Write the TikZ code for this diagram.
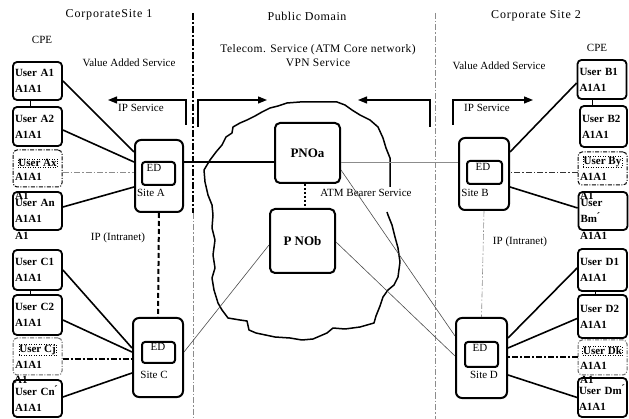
\documentclass[tikz,border=0pt]{standalone}
\usepackage{fontspec}
\setmainfont{Liberation Serif}
\usetikzlibrary{arrows.meta,calc}
\newcommand\usrfont{\fontsize{11}{16}\selectfont\bfseries}
\newcommand\lblfont{\fontsize{11}{13}\selectfont}
\newcommand\ttlfont{\fontsize{12}{14}\selectfont\addfontfeature{LetterSpace=7}}
\begin{document}
\begin{tikzpicture}[x=1pt,y=-1pt,
  usr/.style={draw, line width=1.8pt, rounded corners=4pt, minimum width=49pt,
    text width=45pt, inner sep=2pt, align=left, font=\usrfont},
  usrd/.style={usr, line width=1pt, dash pattern=on 4pt off 1.5pt on 1pt off 1.5pt},
  inbox/.style={draw, dotted, line width=0.5pt, inner sep=0.5pt, font=\usrfont},
  ovf/.style={font=\usrfont, inner sep=0pt, anchor=west},
  site/.style={draw, line width=2pt, rounded corners=6pt},
  edbox/.style={draw, line width=2pt, rounded corners=3pt, inner sep=0pt},
  pno/.style={draw, line width=2pt, rounded corners=5pt, minimum width=65pt,
    font=\fontsize{13}{15}\selectfont\bfseries},
  lbl/.style={font=\lblfont, inner sep=0pt},
  ttl/.style={font=\ttlfont, inner sep=0pt},
  conn/.style={line width=1.6pt},
  thinconn/.style={line width=0.6pt, black!70},
  ddthick/.style={line width=2pt, dash pattern=on 6pt off 2pt on 2pt off 2pt},
  ddthin/.style={line width=0.6pt, dash pattern=on 6pt off 2pt on 1.5pt off 2pt},
  svc/.style={line width=1.2pt, -{Triangle[length=9pt,width=7pt]}}
]
\useasboundingbox (0,0) rectangle (629,419);

% dividers
\draw[line width=2pt, dash pattern=on 7pt off 2pt on 2pt off 2pt] (193,13) -- (193,213);
\draw[ddthin, black!45] (193,213) -- (193,419);
\draw[ddthin, black!45] (435,13) -- (435,419);

% titles
\node[ttl] (t1) at (109,15) {CorporateSite 1};
\node[ttl, font=\fontsize{12}{14}\selectfont\addfontfeature{LetterSpace=5}] (t2) at (307,16) {Public Domain};
\node[ttl] (t3) at (536,16) {Corporate Site 2};
\node[lbl] (cpe1) at (42,40) {CPE};
\node[lbl] (cpe2) at (597,48) {CPE};
\node[lbl] (vas1) at (129,63) {Value Added Service};
\node[lbl] (vas2) at (499,66) {Value Added Service};
\node[lbl, align=center, font=\fontsize{11.5}{14}\selectfont\addfontfeature{LetterSpace=4}] (tel) at (318,56) {Telecom. Service (ATM Core network)\\VPN Service};
\node[lbl] (ips1) at (141,108) {IP Service};
\node[lbl] (ips2) at (487,108) {IP Service};
\node[lbl] (ipi1) at (118,238) {IP (Intranet)};
\node[lbl] (ipi2) at (520,242) {IP (Intranet)};

% service arrows
\coordinate (a1s) at (186,125); \coordinate (a1c) at (186,100); \coordinate (a1e) at (108,100);
\coordinate (a2s) at (198,127); \coordinate (a2c) at (198,100); \coordinate (a2e) at (267,100);
\coordinate (a3s) at (430,127); \coordinate (a3c) at (430,100); \coordinate (a3e) at (358,100);
\coordinate (a4s) at (453,125); \coordinate (a4c) at (453,100); \coordinate (a4e) at (533,100);
\draw[svc] (a1s) -- (a1c) -- (a1e);
\draw[svc] (a2s) -- (a2c) -- (a2e);
\draw[svc] (a3s) -- (a3c) -- (a3e);
\draw[svc] (a4s) -- (a4c) -- (a4e);

% cloud
\draw[line width=1.5pt, line join=round]
 (390,187) -- (390,158) -- (386,148) -- (383,138) -- (378,127) -- (370,120) -- (360,115)
 -- (352,110) -- (345,105) -- (337,102) -- (320,102) -- (300,102) -- (287,103) -- (278,106)
 -- (270,108) -- (262,112) -- (255,116) -- (247,120) -- (240,123) -- (233,127) -- (232,133)
 -- (226,137) -- (222,145) -- (216,152) -- (210,160) -- (204,170) -- (205,182) -- (208,195)
 -- (212,205) -- (213,215) -- (212,228) -- (215,240) -- (213,255) -- (215,268) -- (212,278)
 -- (214,290) -- (218,303) -- (222,310) -- (228,318) -- (240,320) -- (247,321) -- (249,330)
 -- (256,333) -- (275,337) -- (290,338) -- (302,340) -- (313,339) -- (320,336) -- (327,333)
 -- (333,328) -- (345,329) -- (360,327) -- (374,323) -- (376,316) -- (380,306) -- (383,297)
 -- (388,290) -- (394,285) -- (398,277) -- (400,262) -- (398,248) -- (395,237) -- (392,225)
 -- (388,215) -- (387,212);
\node[lbl] (atm) at (366,193) {ATM Bearer Service};

% PNO nodes
\node[pno, minimum height=60pt] (PNOa) at (307.5,153) {PNOa};
\node[pno, minimum height=64pt] (PNOb) at (302.5,241) {P NOb};

% sites
\node[site, minimum width=48pt, minimum height=72pt] (SA) at (159,176) {};
\node[edbox, minimum width=33pt, minimum height=23pt] (EA) at (158.5,173.5) {};
\node[lbl] (EAt) at (154,168) {ED};
\node[lbl] (SAt) at (151,193) {Site A};

\node[site, minimum width=50pt, minimum height=79pt] (SC) at (158,357.5) {};
\node[edbox, minimum width=33pt, minimum height=21pt] (EC) at (158.5,352.5) {};
\node[lbl] (ECt) at (158,347) {ED};
\node[lbl] (SCt) at (154,375) {Site C};

\node[site, minimum width=50pt, minimum height=72pt] (SB) at (484,174) {};
\node[edbox, minimum width=35pt, minimum height=23pt] (EB) at (484.5,172.5) {};
\node[lbl] (EBt) at (483,167) {ED};
\node[lbl] (SBt) at (475,193) {Site B};

\node[site, minimum width=51pt, minimum height=80pt] (SD) at (481.5,358) {};
\node[edbox, minimum width=33pt, minimum height=25pt] (ED) at (481.5,354.5) {};
\node[lbl] (EDt) at (480,348) {ED};
\node[lbl] (SDt) at (484,375) {Site D};

% users left
\node[usr, minimum height=38pt] (A1) at (37.5,81) {User A1\\A1A1};
\node[usr, minimum height=39pt] (A2) at (37.5,126.5) {User A2\\A1A1};
\node[usrd, minimum height=37pt] (Ax) at (37.5,168.5) {\phantom{User Ax}\\A1A1};
\node[inbox] (Axi) at (37.5,163) {User Ax};
\node[usr, minimum height=38pt] (An) at (37.5,211) {User An\\A1A1};
\node[ovf] (Axo) at (15,196) {A1};
\node[ovf] (Ano) at (15,236) {A1};
\node[usr, minimum height=40pt] (C1) at (37.5,270) {User C1\\A1A1};
\node[usr, minimum height=40pt] (C2) at (37.5,315) {User C2\\A1A1};
\node[usrd, black!60, text=black, minimum height=37pt] (Cj) at (37.5,356.5) {\phantom{User Cj}\\A1A1};
\node[inbox] (Cji) at (37.5,350) {User Cj};
\node[ovf] (Cjo) at (14,380) {A1};
\node[usr, minimum height=37pt] (Cn) at (37.5,398.5) {User Cn\'{}\\A1A1};

% users right
\node[usr, minimum height=39pt] (B1) at (602,79.5) {User B1\\A1A1};
\node[usr, minimum height=41pt, minimum width=47pt, text width=43pt] (B2) at (603.5,126.5) {User B2\\A1A1};
\node[usrd, minimum height=33pt] (By) at (602.5,168.5) {\phantom{User By}\\A1A1};
\node[inbox] (Byi) at (602.5,162) {User By};
\node[ovf] (Byo) at (580,196) {A1};
\node[usr, minimum height=38pt] (Bm) at (603,211) {User\\Bm\'{}};
\node[ovf] (Bmo) at (580,236) {A1A1};
\node[usr, minimum height=42pt] (D1) at (602.5,270) {User D1\\A1A1};
\node[usr, minimum height=43pt] (D2) at (602.5,316.5) {User D2\\A1A1};
\node[usrd, black!60, text=black, minimum height=35pt] (Dk) at (602.5,357.5) {\phantom{User Dk}\\A1A1};
\node[inbox] (Dki) at (602.5,351) {User Dk};
\node[ovf] (Dko) at (580,380) {A1};
\node[usr, minimum height=39pt, inner sep=1pt, text width=47pt] (Dm) at (602.5,397.5) {User Dm\'{}\\A1A1};

% small links between user boxes
\coordinate (l1) at ([xshift=-7.5pt]A1.south); \draw[line width=1pt] (l1) -- (l1 |- A2.north);
\coordinate (l2) at ([xshift=-7.5pt]C1.south); \draw[line width=1pt] (l2) -- (l2 |- C2.north);
\coordinate (l3) at ([xshift=-10pt]B1.south); \draw[line width=1pt] (l3) -- (l3 |- B2.north);
\coordinate (l4) at ([xshift=-7.5pt]D1.south); \draw[line width=1pt] (l4) -- (l4 |- D2.north);

% connectors site A
\draw[conn] (A1.east) -- ([yshift=24pt]SA.west);
\draw[conn] ([yshift=-3.5pt]A2.east) -- ([yshift=14pt]SA.west);
\coordinate (axc) at ([yshift=-3.5pt]Ax.east);
\draw[ddthin, black!45] (axc) -- (axc -| SA.west);
\draw[conn] ([yshift=4pt]An.east) -- ([yshift=-11pt]SA.west);
% connectors site C
\draw[conn] (C1.east) -- ([yshift=9.5pt]SC.west);
\draw[conn] ([yshift=-5pt]C2.east) -- ([yshift=5.5pt]SC.west);
\coordinate (cjc) at ([yshift=-2.5pt]Cj.east);
\draw[ddthick] (cjc) -- (cjc -| SC.west);
\draw[conn] ([yshift=1.5pt]Cn.east) -- ([yshift=-15.5pt]SC.west);
% connectors site B
\draw[conn] ([yshift=-3.5pt]B1.west) -- ([yshift=22pt]SB.east);
\coordinate (byc) at ([yshift=-3.5pt]By.west);
\draw[ddthin, black!80] (byc) -- (byc -| SB.east);
\draw[conn] ([yshift=3pt]Bm.west) -- ([yshift=-13pt]SB.east);
% connectors site D
\draw[conn] ([yshift=2pt]D1.west) -- ([yshift=20pt]SD.east);
\draw[conn] ([yshift=-2pt]D2.west) -- ([yshift=10pt]SD.east);
\draw[ddthick] (Dk.west) -- (Dk.west -| SD.east);
\draw[conn] (Dm.west) -- ([yshift=-17pt]SD.east);

% backbone
\coordinate (sap) at ([yshift=14pt]SA.east);
\draw[conn] (sap) -- (sap -| PNOa.west);
\draw[line width=2pt, dash pattern=on 5pt off 3pt] (SA.south) -- (SC.north);
\draw[ddthin, black!45] (SB.south) -- (SD.north);
\coordinate (pab) at ([yshift=-9pt]PNOa.east);
\draw[line width=0.5pt, black!45] (pab) -- (pab -| SB.west);
\draw[thinconn] ([yshift=-17pt]PNOa.east) -- ([yshift=22pt]SD.west);
\draw[thinconn] ([yshift=-1pt]PNOb.east) -- ([yshift=2pt]SD.west);
\draw[thinconn] ([yshift=5.5pt]SC.east) -- ([yshift=-4pt]PNOb.west);
\coordinate (pa) at ([xshift=-2.5pt]PNOa.south);
\draw[line width=2pt, dash pattern=on 2pt off 2pt] (pa) -- (pa |- PNOb.north);
\end{tikzpicture}
\end{document}
